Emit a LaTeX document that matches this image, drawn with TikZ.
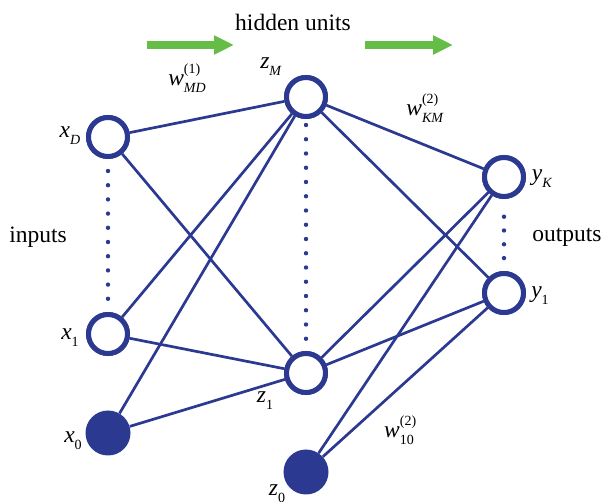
\documentclass[tikz,border=0pt]{standalone}
\usepackage{fontspec}
\setmainfont{Liberation Serif}
\usetikzlibrary{arrows.meta}
\definecolor{netblue}{RGB}{43,57,145}
\definecolor{arrgreen}{RGB}{101,188,70}
\newcommand{\sublab}[2]{\textit{#1}\raisebox{-0.3em}{\fontsize{14}{14}\selectfont#2}}
\newcommand{\wlab}[3]{\textit{#1}\makebox[0pt][l]{\raisebox{0.5em}{\fontsize{14}{14}\selectfont(#2)}}\raisebox{-0.3em}{\fontsize{14}{14}\selectfont#3}}
\tikzset{
  unit/.style={circle,draw=netblue,line width=5pt,fill=white,minimum size=39pt,inner sep=0pt},
  bias/.style={circle,fill=netblue,minimum size=45pt,inner sep=0pt},
  conn/.style={draw=netblue,line width=2.7pt},
  lab/.style={font=\fontsize{23.5}{28}\selectfont,inner sep=0pt},
  flow/.style={draw=arrgreen,line width=8pt,-{Triangle[length=20pt,width=18pt]}},
  dotfill/.style={fill=netblue}
}
\begin{document}
\begin{tikzpicture}[x=1pt,y=-1pt]
\useasboundingbox (0,0) rectangle (603,502);
% centres
\coordinate (xDc) at (108,137);
\coordinate (x1c) at (108,334);
\coordinate (x0c) at (108,433);
\coordinate (zMc) at (306,97);
\coordinate (z1c) at (306,373);
\coordinate (z0c) at (306,472);
\coordinate (yKc) at (504,177);
\coordinate (y1c) at (504,293);
% dots
\foreach \i in {0,...,9} \fill[dotfill] (108,{171+\i*14.2}) circle (2.2pt);
\foreach \i in {0,...,15} \fill[dotfill] (306,{125+\i*14.25}) circle (2.2pt);
\foreach \i in {0,...,3} \fill[dotfill] (504,{216.7+\i*13.8}) circle (2.2pt);
% nodes
\node[unit] (xD) at (xDc) {};
\node[unit] (x1) at (x1c) {};
\node[bias] (x0) at (x0c) {};
\node[unit] (zM) at (zMc) {};
\node[unit] (z1) at (z1c) {};
\node[bias] (z0) at (z0c) {};
\node[unit] (yK) at (yKc) {};
\node[unit] (y1) at (y1c) {};
% connections
\foreach \a/\b in {xD/zM,xD/z1,x1/zM,x1/z1,x0/zM,x0/z1,zM/yK,zM/y1,z1/yK,z1/y1,z0/yK,z0/y1}
  \draw[conn] (\a) -- (\b);
% redraw unit rings over lines
\node[unit] at (xDc) {};
\node[unit] at (x1c) {};
\node[unit] at (zMc) {};
\node[unit] at (z1c) {};
\node[unit] at (yKc) {};
\node[unit] at (y1c) {};
% arrows
\coordinate (a1s) at (147,45);
\coordinate (a1e) at (234,45);
\coordinate (a2s) at (365,45);
\coordinate (a2e) at (453,45);
\draw[flow] (a1s) -- (a1e);
\draw[flow] (a2s) -- (a2e);
% labels
\node[lab] (thidden) at (293,22) {hidden units};
\node[lab] (tin) at (38,237) {inputs};
\node[lab] (tout) at (567,237) {outputs};
\node[lab] (lxD) at (70,136) {\sublab{x}{\textit{D}}};
\node[lab] (lx1) at (70,338) {\sublab{x}{1}};
\node[lab] (lx0) at (73,441) {\sublab{x}{0}};
\node[lab] (lzM) at (271,67) {\sublab{z}{\textit{M}}};
\node[lab] (lz1) at (265,401) {\sublab{z}{1}};
\node[lab] (lz0) at (277,494) {\sublab{z}{0}};
\node[lab] (lyK) at (542,179) {\sublab{y}{\textit{K}}};
\node[lab] (ly1) at (540,296) {\sublab{y}{1}};
\node[lab] (w1) at (187,78) {\wlab{w}{1}{\textit{MD}}};
\node[lab] (w2) at (425,108) {\wlab{w}{2}{\textit{KM}}};
\node[lab] (w3) at (399,430) {\wlab{w}{2}{10}};
\end{tikzpicture}
\end{document}
